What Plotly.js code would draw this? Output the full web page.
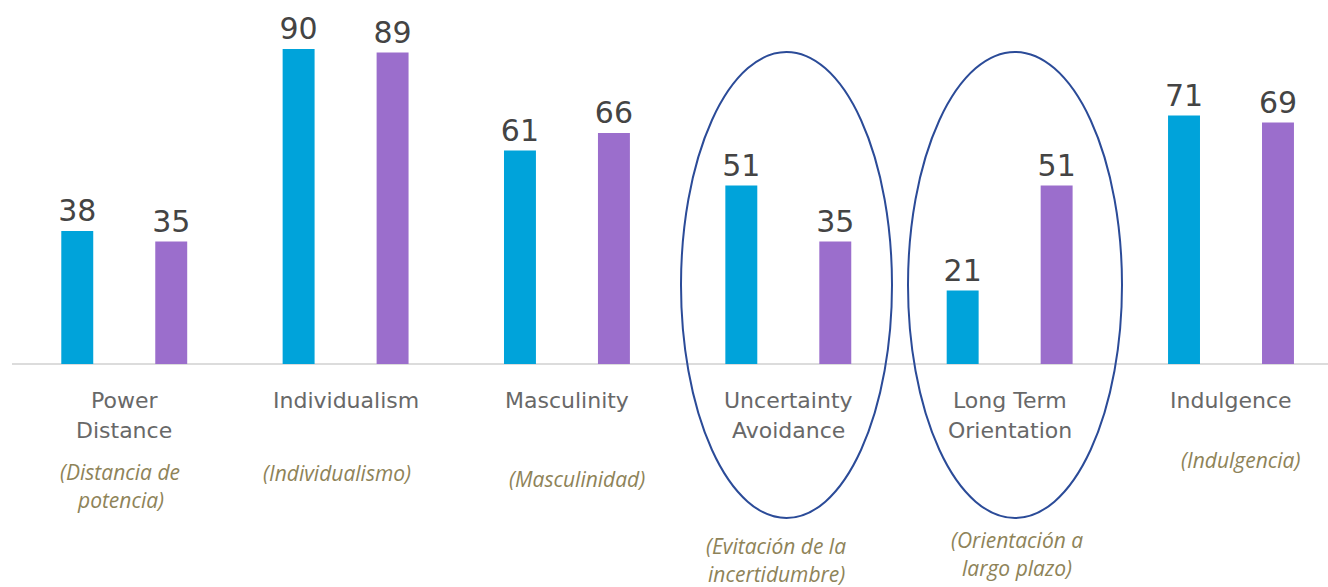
<!DOCTYPE html>
<html>
<head>
<meta charset="utf-8">
<script src="https://cdn.plot.ly/plotly-3.0.1.min.js"></script>
<style>
  html, body { margin: 0; padding: 0; background: #ffffff; }
  #chart { width: 1328px; height: 587px; }
</style>
</head>
<body>
<div id="chart"></div>
<script>
// ---- data ----
const categories = ["Power\nDistance", "Individualism", "Masculinity", "Uncertainty\nAvoidance", "Long Term\nOrientation", "Indulgence"];
const spanishLabels = ["(Distancia de\npotencia)", "(Individualismo)", "(Masculinidad)", "(Evitación de la\nincertidumbre)", "(Orientación a\nlargo plazo)", "(Indulgencia)"];
const seriesA = [38, 90, 61, 51, 21, 71];
const seriesB = [35, 89, 66, 35, 51, 69];
const highlighted = [3, 4];

// ---- layout helpers (pixel geometry of the reference) ----
const W = 1328, H = 587;
const catPx = 221.35;          // px per category
const firstCenterPx = 124.25;  // px of first category center
const basePx = 364;            // px of zero line
const unitPx = 3.5;            // px per value unit
const xMin = -firstCenterPx / catPx;
const xMax = (W - firstCenterPx) / catPx;
const yMax = basePx / unitPx;
const yMin = -(H - basePx) / unitPx;
const px2x = p => xMin + p / catPx;
const py2y = p => (basePx - p) / unitPx;

const idx = categories.map((_, i) => i);
const numFont = { family: 'DejaVu Sans, sans-serif', size: 30, color: '#444444' };

const traces = [
  {
    type: 'bar', x: idx, y: seriesA, name: 'A',
    marker: { color: '#00A3DA' },
    text: seriesA.map(String), textposition: 'outside', cliponaxis: false, constraintext: 'none',
    textfont: numFont, hoverinfo: 'none'
  },
  {
    type: 'bar', x: idx, y: seriesB, name: 'B',
    marker: { color: '#9B6ECC' },
    text: seriesB.map(String), textposition: 'outside', cliponaxis: false, constraintext: 'none',
    textfont: numFont, hoverinfo: 'none'
  }
];

const annotations = [];
// English category labels
const enTop = 400, enLine = 30;
categories.forEach((c, i) => {
  c.split('\n').forEach((line, j) => {
    annotations.push({
      x: i, y: py2y(enTop + j * enLine), xref: 'x', yref: 'y',
      text: line, showarrow: false, xanchor: 'center', yanchor: 'middle',
      font: { family: 'DejaVu Sans, sans-serif', size: 22, color: '#686868' }
    });
  });
});
// Spanish labels (position tweaks per label)
const esDx = [-4, -9, 10, -12, 7, 9];
const esTop = [472, 473, 479, 546, 540, 460];
const esLine = 28;
spanishLabels.forEach((c, i) => {
  c.split('\n').forEach((line, j) => {
    annotations.push({
      x: i + esDx[i] / catPx, y: py2y(esTop[i] + j * esLine), xref: 'x', yref: 'y',
      text: line, showarrow: false, xanchor: 'center', yanchor: 'middle',
      font: { family: 'Open Sans, sans-serif', size: 21, color: '#8E8358', style: 'italic' }
    });
  });
});

// ellipses around highlighted categories
const ellipsePx = { 3: [681, 892], 4: [908, 1122] };
const shapes = [
  { type: 'line', xref: 'x', yref: 'y', x0: px2x(12), x1: xMax, y0: 0, y1: 0,
    line: { color: '#dcdcdc', width: 2 }, layer: 'below' }
];
highlighted.forEach(i => {
  shapes.push({
    type: 'circle', xref: 'x', yref: 'y',
    x0: px2x(ellipsePx[i][0]), x1: px2x(ellipsePx[i][1]),
    y0: py2y(518), y1: py2y(52),
    line: { color: '#2B4B98', width: 2 }, fillcolor: 'rgba(0,0,0,0)'
  });
});

const layout = {
  width: W, height: H,
  margin: { l: 0, r: 0, t: 0, b: 0 },
  paper_bgcolor: '#ffffff', plot_bgcolor: '#ffffff',
  showlegend: false,
  barmode: 'group', bargap: 0.151, bargroupgap: 0.66,
  xaxis: { range: [xMin, xMax], showgrid: false, zeroline: false, showticklabels: false, ticks: '', fixedrange: true },
  yaxis: { range: [yMin, yMax], showgrid: false, zeroline: false, showticklabels: false, ticks: '', fixedrange: true },
  annotations: annotations,
  shapes: shapes
};

Plotly.newPlot('chart', traces, layout, { displayModeBar: false, staticPlot: true });
</script>
</body>
</html>
